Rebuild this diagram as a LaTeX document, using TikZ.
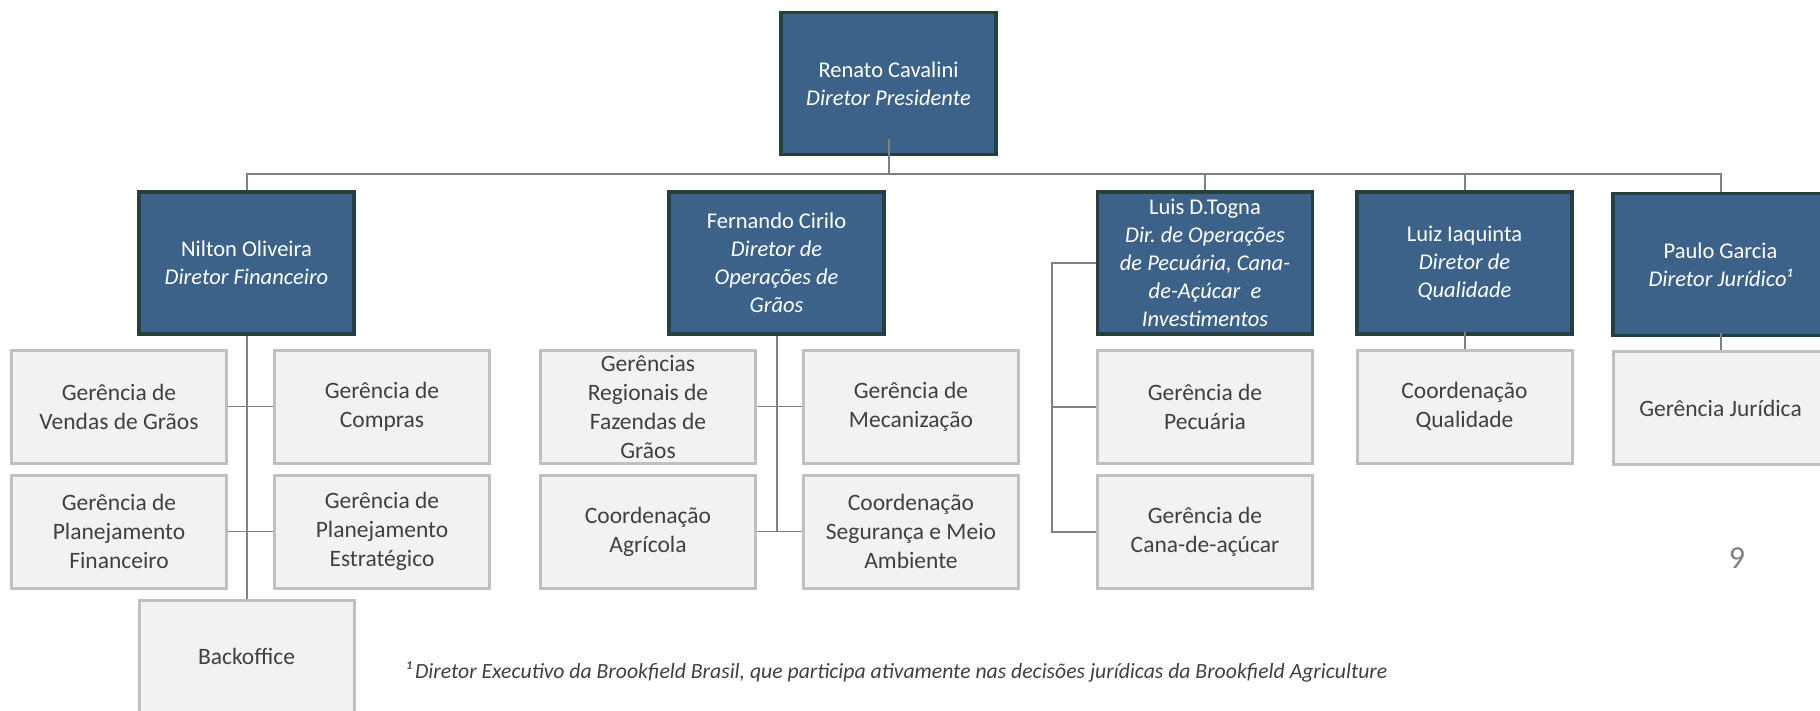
\documentclass[tikz,border=0pt]{standalone}
\usepackage{fontspec}
\setmainfont{Carlito}
\usepackage{tikz}
\usetikzlibrary{calc}
\definecolor{dirfill}{RGB}{60,98,137}
\definecolor{dirline}{RGB}{38,64,62}
\definecolor{mgrfill}{RGB}{242,242,242}
\definecolor{mgrline}{RGB}{192,192,192}
\definecolor{connline}{RGB}{128,128,128}
\definecolor{mgrtext}{RGB}{64,64,64}
\frenchspacing
\tikzset{
    dirbox/.style={draw=dirline, line width=3.5pt, fill=dirfill, text=white,
        minimum width=215pt, minimum height=142pt, inner sep=0pt, align=center,
        font=\fontsize{22.5}{28}\selectfont},
    mgrbox/.style={draw=mgrline, line width=3pt, fill=mgrfill, text=mgrtext,
        minimum width=215pt, minimum height=113pt, inner sep=0pt, align=center,
        font=\fontsize{23.5}{29}\selectfont},
    conn/.style={draw=connline, line width=2pt},
    tie/.style={draw=connline, line width=1.5pt}
}

\begin{document}
\begin{tikzpicture}[x=1pt, y=-1pt]
    \useasboundingbox (0,0) rectangle (1820,710);
    % diretoria
    \node[dirbox] (renato) at (888.5,83.5) {Renato Cavalini\\\textit{Diretor Presidente}};
    \node[dirbox] (nilton) at (246.5,263) {Nilton Oliveira\\\textit{Diretor Financeiro}};
    \node[dirbox] (fernando) at (776.5,263) {Fernando Cirilo\\\textit{Diretor de}\\\textit{Operações de}\\\textit{Grãos}};
    \node[dirbox] (luis) at (1205,263) {Luis D.Togna\\\textit{Dir. de Operações}\\\textit{de Pecuária, Cana-}\\\textit{de-Açúcar\ \ e}\\\textit{Investimentos}};
    \node[dirbox] (luiz) at (1464.5,263) {Luiz Iaquinta\\\textit{Diretor de}\\\textit{Qualidade}};
    \node[dirbox] (paulo) at (1720.5,264.5) {Paulo Garcia\\\textit{Diretor Jurídico¹}};
    % gerencias
    \node[mgrbox] (vendas) at (119,406.5) {Gerência de\\Vendas de Grãos};
    \node[mgrbox] (compras) at (382,406.5) {Gerência de\\Compras};
    \node[mgrbox] (planfin) at (119,531.5) {Gerência de\\Planejamento\\Financeiro};
    \node[mgrbox] (planest) at (382,531.5) {Gerência de\\Planejamento\\Estratégico};
    \node[mgrbox] (backoffice) at (246.5,656.5) {Backoffice};
    \node[mgrbox] (regionais) at (648,406.5) {Gerências\\Regionais de\\Fazendas de\\Grãos};
    \node[mgrbox] (mecanizacao) at (911,406.5) {Gerência de\\Mecanização};
    \node[mgrbox] (agricola) at (648,531.5) {Coordenação\\Agrícola};
    \node[mgrbox] (seguranca) at (911,531.5) {Coordenação\\Segurança e Meio\\Ambiente};
    \node[mgrbox] (pecuaria) at (1205,406.5) {Gerência de\\Pecuária};
    \node[mgrbox] (cana) at (1205,531.5) {Gerência de\\Cana-de-açúcar};
    \node[mgrbox] (qualidade) at (1464.5,406.5) {Coordenação\\Qualidade};
    \node[mgrbox] (juridica) at (1720.5,408) {Gerência Jurídica};
    % linhas
    \coordinate (bus) at (888.5,174);
    \coordinate (lspine) at (1052,263);
    \draw[conn] ([yshift=17pt]renato.south) -- (bus);
    \foreach \d in {nilton,luis,luiz,paulo}
        \draw[conn] (\d.north) |- (bus);
    \draw[conn] (nilton.south) -- (backoffice.north);
    \draw[tie] (vendas.east) -- (compras.west);
    \draw[tie] (planfin.east) -- (planest.west);
    \draw[conn] (fernando.south) -- (fernando.south |- agricola.east);
    \draw[tie] (regionais.east) -- (mecanizacao.west);
    \draw[tie] (agricola.east) -- (seguranca.west);
    \draw[conn] (luis.west) -- (lspine) |- (cana.west);
    \draw[conn] (lspine |- pecuaria.west) -- (pecuaria.west);
    \draw[conn] ([yshift=4pt]luiz.south) -- (qualidade.north);
    \draw[conn] ([yshift=4pt]paulo.south) -- (juridica.north);
    % rodape
    \node[anchor=base west, inner sep=0pt, text=mgrtext, font=\fontsize{21.7}{26}\selectfont\itshape] (nota) at (406,678)
        {¹\,Diretor Executivo da Brookfield Brasil, que participa ativamente nas decisões jurídicas da Brookfield Agriculture};
    \node[text=connline, font=\fontsize{32}{38}\selectfont] (pagina) at (1737,558) {9};
\end{tikzpicture}
\end{document}
